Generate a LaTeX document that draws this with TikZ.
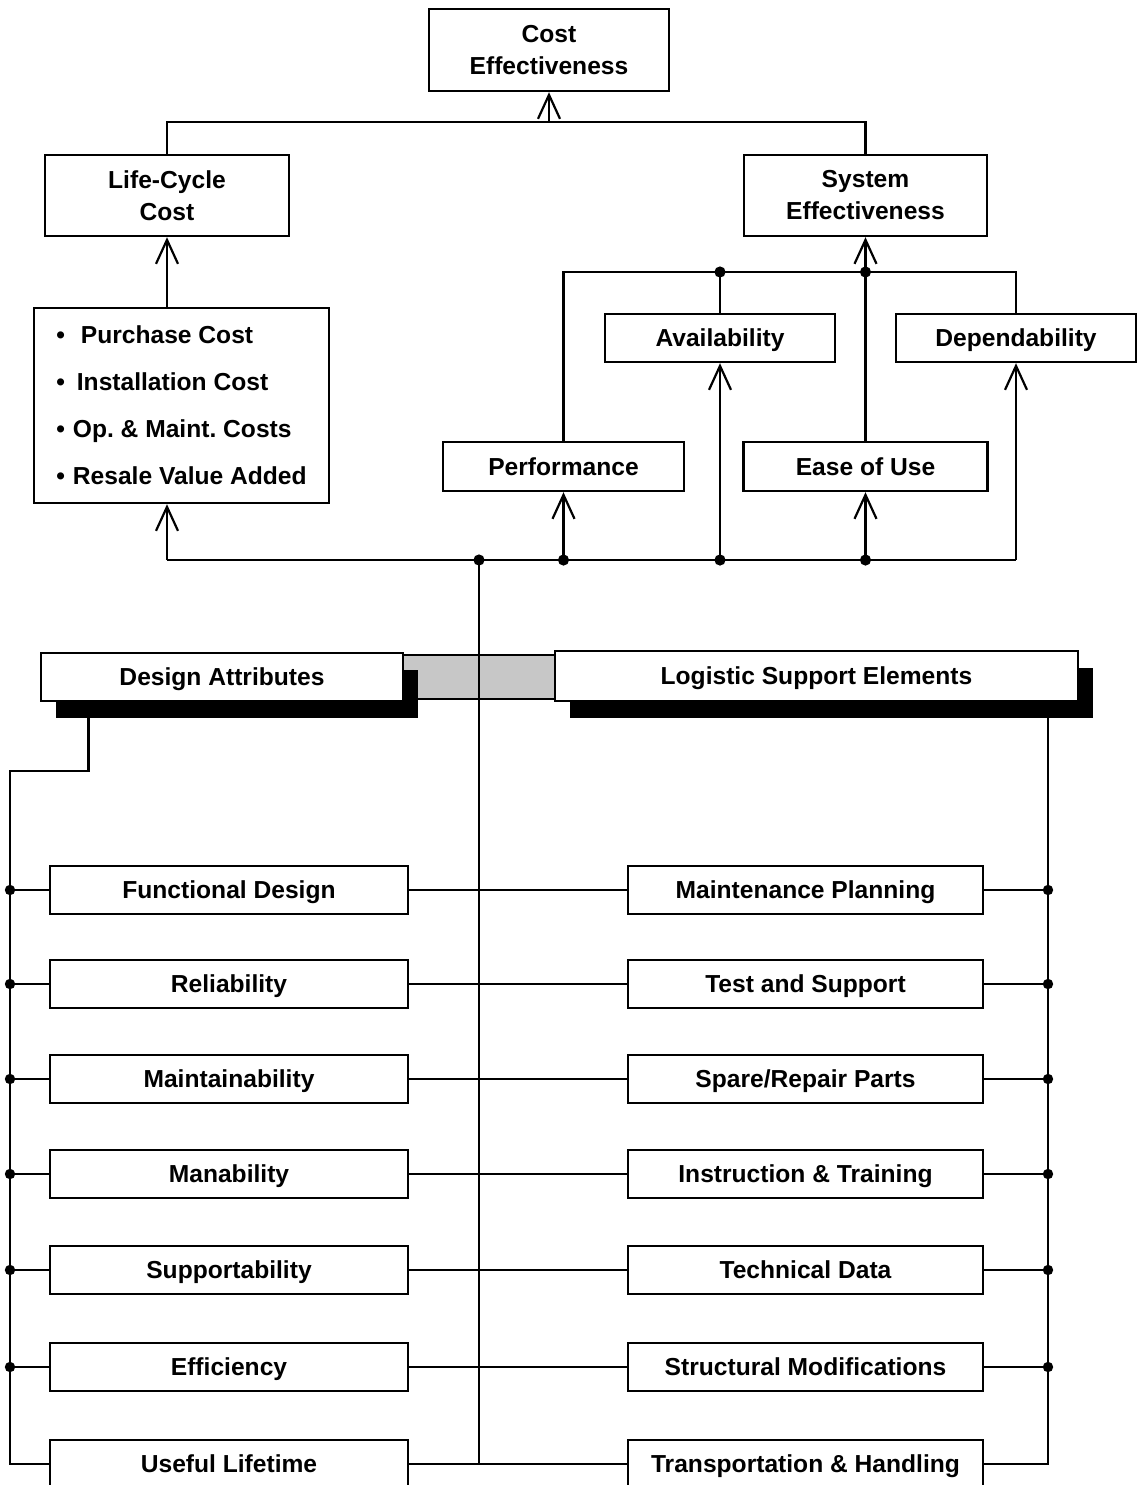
\documentclass[tikz,border=0pt]{standalone}
\usepackage{fontspec}
\setmainfont{Liberation Sans}
\usetikzlibrary{arrows.meta,shadows}

\pgfdeclarelayer{bar}
\pgfdeclarelayer{wires}
\pgfsetlayers{bar,wires,main}

\begin{document}
\begin{tikzpicture}[x=0.5pt,y=-0.5pt,
  every node/.style={font=\bfseries\fontsize{12.3}{16}\selectfont},
  box/.style={draw, line width=1.2pt, fill=white, inner sep=0pt, align=center},
  one/.style={text height=8.8pt, text depth=0pt},
  sz/.style 2 args={minimum width=0.5pt*#1, minimum height=0.5pt*#2},
  wire/.style={line width=1.35pt},
  up/.style={wire, -{Straight Barb[length=12pt,width=11pt,line width=1.1pt]}},
  shade/.style={general shadow={fill=black, shadow xshift=7.5pt, shadow yshift=-8.5pt}}]

\useasboundingbox (0,0) rectangle (1138,1485);
\clip (0,0) rectangle (1138,1485);

% ---------- upper tree ----------
\node[box, sz={240}{82}] (ce)   at (549,50)    {Cost\\Effectiveness};
\node[box, sz={244}{81}] (lcc)  at (167,195.5) {Life-Cycle\\Cost};
\node[box, sz={243}{81}] (se)   at (865.5,195.5) {System\\Effectiveness};
\node[box, sz={295}{195}, font=\bfseries\fontsize{12.3}{23.5}\selectfont, align=left]
  (lcitems) at (181.5,405.5)
  {•\hspace{8pt}Purchase Cost\\
   •\hspace{6pt}Installation Cost\\
   •\hspace{4pt}Op.\ \& Maint.\ Costs\\
   •\hspace{4pt}Resale Value Added};
\node[box, one, sz={241}{49}] (perf)  at (563.5,466.5) {Performance};
\node[box, one, sz={230}{48}] (avail) at (720,338)     {Availability};
\node[box, one, sz={244}{49}] (ease)  at (865.5,466.5) {Ease of Use};
\node[box, one, sz={240}{48}] (dep)   at (1016,338)    {Dependability};

\coordinate (tb)  at (549,122);
\coordinate (mbA) at (720,272);
\coordinate (mbE) at (865.5,272);
\coordinate (bb0) at (167,560);
\coordinate (bbM) at (479,560);

\begin{pgfonlayer}{wires}
  % top level
  \draw[wire] (lcc.north) |- (tb) -| (se.north);
  \draw[up] (tb) -- (ce.south);
  \draw[up] (lcc.south |- lcitems.north) -- (lcc.south);
  % system effectiveness branch
  \draw[wire] (perf.north) |- (mbA) -- (mbE) -| (dep.north);
  \draw[wire] (avail.north) -- (mbA);
  \draw[up] (ease.north) -- (se.south);
  \fill (mbA) circle (2.8pt);
  \fill (mbE) circle (2.8pt);
  % feed bus
  \draw[wire] (bb0) -- (dep.south |- bb0);
  \draw[up] (bb0) -- (bb0 |- lcitems.south);
  \draw[up] (perf.south |- bb0)  -- (perf.south);
  \draw[up] (avail.south |- bb0) -- (avail.south);
  \draw[up] (ease.south |- bb0)  -- (ease.south);
  \draw[up] (dep.south |- bb0)   -- (dep.south);
  \foreach \p in {bbM, perf.south |- bb0, avail.south |- bb0, ease.south |- bb0}
    \fill (\p) circle (2.8pt);
\end{pgfonlayer}

% ---------- lower part ----------
\node[box, one, sz={362}{48}, shade] (da)  at (222,677)   {Design Attributes};
\node[box, one, sz={523}{50}, shade] (lse) at (816.5,676) {Logistic Support Elements};

\begin{pgfonlayer}{bar}
  \draw[line width=1.2pt, fill=black!22] (395,655) rectangle (565,699);
\end{pgfonlayer}

\foreach \i/\yy/\l/\r in {
  1/890/{Functional Design}/{Maintenance Planning},
  2/984/{Reliability}/{Test and Support},
  3/1079/{Maintainability}/{Spare/Repair Parts},
  4/1174/{Manability}/{Instruction \& Training},
  5/1270/{Supportability}/{Technical Data},
  6/1367/{Efficiency}/{Structural Modifications},
  7/1464/{Useful Lifetime}/{Transportation \& Handling}}{
  \node[box, one, sz={358}{48}] (L\i) at (229,\yy)   {\l};
  \node[box, one, sz={355}{48}] (R\i) at (805.5,\yy) {\r};
}

\coordinate (lk) at (10,771);
\coordinate (rb) at (1048,701);

\begin{pgfonlayer}{wires}
  \draw[wire] (da.south west) ++(49,0) |- (lk) -- (lk |- L7.west) -- (L7.west);
  \draw[wire] (rb) |- (R7.east);
  \draw[wire] (bbM) -- (bbM |- L7.east);
  \draw[wire] (L7.east) -- (R7.west);
  \foreach \i in {1,...,6}{
    \draw[wire] (lk |- L\i.west) -- (L\i.west);
    \draw[wire] (L\i.east) -- (R\i.west);
    \draw[wire] (R\i.east) -- (rb |- R\i.east);
    \fill (lk |- L\i.west) circle (2.6pt);
    \fill (rb |- R\i.east) circle (2.6pt);
  }
\end{pgfonlayer}
\end{tikzpicture}
\end{document}
